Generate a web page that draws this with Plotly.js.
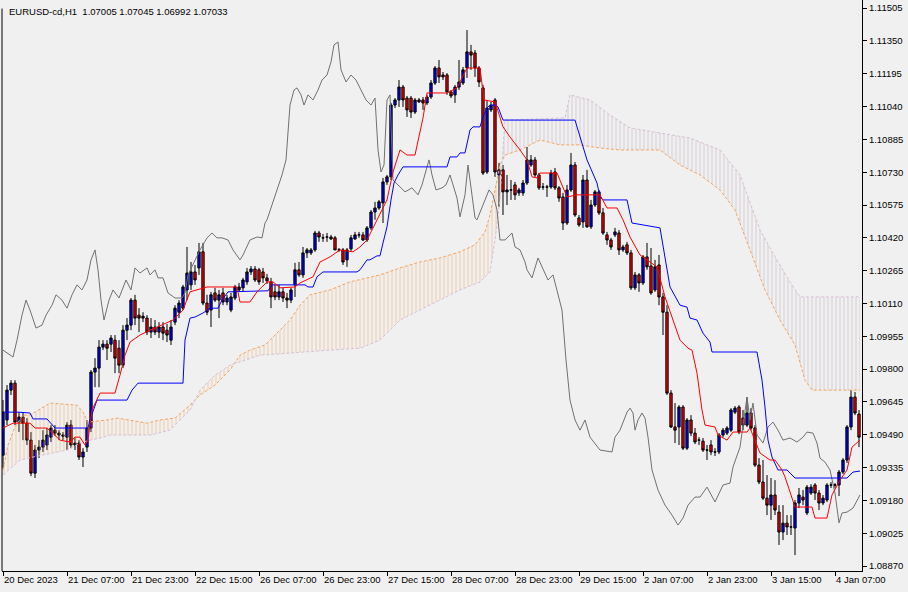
<!DOCTYPE html>
<html><head><meta charset="utf-8">
<script src="https://cdn.plot.ly/plotly-3.0.1.min.js"></script>
<style>html,body{margin:0;padding:0;background:#F0F0F0;}#chart{width:908px;height:592px;}</style>
</head><body><div id="chart"></div>
<script>
const headerText = 'EURUSD-cd,H1  1.07005 1.07045 1.06992 1.07033';
const tickBars = [0,16,32,48,64,80,96,112,128,144,160,176,192,208];
const tickLabels = ['20 Dec 2023','21 Dec 07:00','21 Dec 23:00','22 Dec 15:00','26 Dec 07:00','26 Dec 23:00','27 Dec 15:00','28 Dec 07:00','28 Dec 23:00','29 Dec 15:00','2 Jan 07:00','2 Jan 23:00','3 Jan 15:00','4 Jan 07:00'];
const priceTicks = [1.08870,1.09025,1.09180,1.09335,1.09490,1.09645,1.09800,1.09955,1.10110,1.10265,1.10420,1.10575,1.10730,1.10885,1.11040,1.11195,1.11350,1.11505];

const open = [1.09394,1.09560,1.09701,1.09734,1.09550,1.09574,1.09545,1.09465,1.09309,1.09418,
1.09432,1.09442,1.09479,1.09512,1.09498,1.09489,1.09479,1.09536,1.09442,1.09451,
1.09385,1.09432,1.09522,1.09786,1.09805,1.09904,1.09918,1.09918,1.09937,1.09899,
1.09819,1.09984,1.10008,1.10126,1.10055,1.10041,1.10041,1.09975,1.09999,1.09975,
1.09999,1.09984,1.09937,1.10022,1.10069,1.10088,1.10174,1.10198,1.10259,1.10278,
1.10354,1.10112,1.10079,1.10160,1.10126,1.10160,1.10117,1.10079,1.10136,1.10174,
1.10184,1.10212,1.10259,1.10273,1.10269,1.10259,1.10231,1.10212,1.10165,1.10141,
1.10165,1.10136,1.10126,1.10198,1.10269,1.10245,1.10349,1.10349,1.10363,1.10443,
1.10420,1.10424,1.10424,1.10420,1.10363,1.10363,1.10316,1.10368,1.10415,1.10434,
1.10434,1.10410,1.10467,1.10542,1.10561,1.10585,1.10684,1.10708,1.11047,1.11071,
1.11132,1.11080,1.11080,1.11014,1.11071,1.11071,1.11057,1.11085,1.11151,1.11222,
1.11189,1.11189,1.11109,1.11095,1.11132,1.11151,1.11222,1.11298,1.11293,1.11222,
1.11128,1.10731,1.11024,1.11071,1.10717,1.10741,1.10637,1.10646,1.10670,1.10632,
1.10632,1.10679,1.10764,1.10788,1.10717,1.10660,1.10660,1.10660,1.10731,1.10656,
1.10613,1.10490,1.10646,1.10764,1.10514,1.10495,1.10693,1.10472,1.10575,1.10637,
1.10538,1.10434,1.10410,1.10434,1.10443,1.10363,1.10387,1.10349,1.10184,1.10245,
1.10207,1.10330,1.10287,1.10174,1.10292,1.10141,1.10069,1.09687,1.09527,1.09527,
1.09621,1.09427,1.09560,1.09498,1.09465,1.09460,1.09418,1.09442,1.09409,1.09409,
1.09489,1.09498,1.09512,1.09597,1.09621,1.09569,1.09536,1.09593,1.09522,1.09347,
1.09267,1.09191,1.09158,1.09206,1.09125,1.09031,1.09073,1.09055,1.09050,1.09168,
1.09196,1.09121,1.09215,1.09253,1.09215,1.09168,1.09182,1.09253,1.09253,1.09253,
1.09314,1.09371,1.09527,1.09668,1.09588];
const high = [1.09654,1.09725,1.09748,1.09748,1.09597,1.09597,1.09569,1.09503,1.09442,1.09465,
1.09512,1.09522,1.09536,1.09536,1.09512,1.09503,1.09550,1.09560,1.09475,1.09465,
1.09427,1.09560,1.09796,1.09852,1.09937,1.09937,1.09937,1.09961,1.09961,1.09937,
1.10008,1.10041,1.10136,1.10151,1.10088,1.10069,1.10055,1.10041,1.10032,1.10022,
1.10022,1.10013,1.10032,1.10102,1.10126,1.10198,1.10377,1.10306,1.10292,1.10396,
1.10396,1.10151,1.10165,1.10184,1.10174,1.10184,1.10151,1.10160,1.10198,1.10207,
1.10231,1.10278,1.10287,1.10287,1.10278,1.10278,1.10250,1.10231,1.10198,1.10198,
1.10184,1.10160,1.10184,1.10302,1.10306,1.10377,1.10372,1.10372,1.10453,1.10453,
1.10438,1.10443,1.10434,1.10429,1.10372,1.10372,1.10372,1.10434,1.10448,1.10448,
1.10448,1.10476,1.10552,1.10590,1.10599,1.10703,1.10717,1.11057,1.11080,1.11165,
1.11142,1.11090,1.11090,1.11080,1.11080,1.11085,1.11095,1.11165,1.11231,1.11260,
1.11203,1.11198,1.11118,1.11142,1.11260,1.11227,1.11401,1.11331,1.11307,1.11231,
1.11142,1.11071,1.11062,1.11080,1.10774,1.10764,1.10717,1.10693,1.10684,1.10656,
1.10693,1.10849,1.10811,1.10802,1.10726,1.10679,1.10670,1.10741,1.10750,1.10665,
1.10632,1.10670,1.10821,1.10778,1.10528,1.10717,1.10741,1.10599,1.10646,1.10646,
1.10561,1.10448,1.10420,1.10467,1.10457,1.10387,1.10401,1.10363,1.10259,1.10254,
1.10339,1.10396,1.10372,1.10316,1.10339,1.10160,1.10102,1.09701,1.09640,1.09630,
1.09630,1.09569,1.09583,1.09522,1.09479,1.09475,1.09442,1.09465,1.09427,1.09498,
1.09522,1.09531,1.09616,1.09626,1.09630,1.09607,1.09668,1.09616,1.09536,1.09380,
1.09371,1.09300,1.09286,1.09276,1.09158,1.09158,1.09111,1.09111,1.09182,1.09239,
1.09229,1.09253,1.09257,1.09262,1.09229,1.09206,1.09262,1.09267,1.09262,1.09324,
1.09380,1.09536,1.09701,1.09692,1.09607];
const low = [1.09333,1.09536,1.09678,1.09536,1.09503,1.09465,1.09442,1.09295,1.09286,1.09380,
1.09409,1.09418,1.09456,1.09484,1.09465,1.09465,1.09418,1.09427,1.09418,1.09371,
1.09338,1.09409,1.09503,1.09715,1.09715,1.09890,1.09843,1.09881,1.09781,1.09781,
1.09805,1.09937,1.09984,1.10008,1.09975,1.10022,1.09961,1.09947,1.09961,1.09947,
1.09937,1.09928,1.09914,1.10008,1.10041,1.10079,1.10126,1.10174,1.10198,1.10245,
1.10102,1.10055,1.09999,1.10117,1.10041,1.10102,1.10102,1.10069,1.10126,1.10165,
1.10165,1.10198,1.10245,1.10212,1.10198,1.10207,1.10202,1.10088,1.10126,1.10126,
1.10117,1.10088,1.10112,1.10141,1.10236,1.10231,1.10325,1.10339,1.10354,1.10401,
1.10401,1.10401,1.10410,1.10363,1.10354,1.10292,1.10283,1.10354,1.10410,1.10420,
1.10405,1.10401,1.10457,1.10505,1.10552,1.10490,1.10670,1.10693,1.11033,1.11038,
1.11038,1.10991,1.10986,1.11005,1.11057,1.11024,1.11047,1.11076,1.11142,1.11151,
1.11165,1.11095,1.11080,1.11057,1.11118,1.11142,1.11175,1.11213,1.11180,1.11132,
1.10717,1.10722,1.11014,1.10708,1.10566,1.10528,1.10575,1.10599,1.10599,1.10618,
1.10618,1.10670,1.10755,1.10708,1.10646,1.10646,1.10613,1.10651,1.10646,1.10590,
1.10457,1.10481,1.10637,1.10519,1.10472,1.10467,1.10467,1.10462,1.10566,1.10528,
1.10434,1.10387,1.10363,1.10424,1.10339,1.10354,1.10339,1.10174,1.10174,1.10165,
1.10198,1.10269,1.10151,1.10165,1.10102,1.09961,1.09678,1.09522,1.09451,1.09442,
1.09418,1.09418,1.09484,1.09446,1.09442,1.09409,1.09371,1.09394,1.09390,1.09399,
1.09479,1.09489,1.09503,1.09588,1.09493,1.09512,1.09527,1.09512,1.09338,1.09257,
1.09182,1.09111,1.09088,1.09111,1.08970,1.08993,1.09017,1.09017,1.08922,1.09144,
1.09158,1.09111,1.09206,1.09182,1.09135,1.09158,1.09173,1.09239,1.09239,1.09201,
1.09305,1.09357,1.09512,1.09583,1.09432];
const close = [1.09597,1.09701,1.09734,1.09550,1.09574,1.09545,1.09465,1.09309,1.09418,1.09432,
1.09465,1.09489,1.09522,1.09498,1.09489,1.09484,1.09536,1.09442,1.09451,1.09385,
1.09409,1.09522,1.09786,1.09805,1.09904,1.09918,1.09899,1.09947,1.09852,1.09819,
1.09984,1.10008,1.10126,1.10041,1.10041,1.10050,1.09975,1.09999,1.09975,1.09999,
1.09970,1.09961,1.09999,1.10088,1.10112,1.10188,1.10254,1.10259,1.10221,1.10354,
1.10112,1.10069,1.10151,1.10126,1.10151,1.10117,1.10136,1.10141,1.10188,1.10188,
1.10221,1.10259,1.10273,1.10221,1.10212,1.10231,1.10217,1.10141,1.10141,1.10165,
1.10136,1.10126,1.10174,1.10269,1.10245,1.10349,1.10363,1.10363,1.10443,1.10424,
1.10420,1.10424,1.10415,1.10363,1.10363,1.10306,1.10363,1.10420,1.10434,1.10434,
1.10410,1.10467,1.10542,1.10561,1.10590,1.10684,1.10708,1.11047,1.11071,1.11132,
1.11071,1.11024,1.11014,1.11071,1.11062,1.11057,1.11085,1.11151,1.11222,1.11180,
1.11180,1.11109,1.11090,1.11132,1.11156,1.11213,1.11298,1.11283,1.11222,1.11156,
1.10726,1.11033,1.11047,1.10731,1.10741,1.10637,1.10646,1.10646,1.10623,1.10646,
1.10679,1.10788,1.10788,1.10717,1.10656,1.10660,1.10660,1.10726,1.10656,1.10608,
1.10490,1.10646,1.10764,1.10528,1.10481,1.10693,1.10472,1.10575,1.10637,1.10538,
1.10443,1.10410,1.10377,1.10448,1.10363,1.10377,1.10349,1.10184,1.10245,1.10207,
1.10330,1.10283,1.10160,1.10283,1.10141,1.10069,1.09687,1.09527,1.09512,1.09621,
1.09427,1.09560,1.09498,1.09456,1.09465,1.09418,1.09418,1.09409,1.09409,1.09489,
1.09512,1.09522,1.09607,1.09616,1.09503,1.09536,1.09593,1.09522,1.09347,1.09267,
1.09191,1.09158,1.09206,1.09135,1.09031,1.09073,1.09055,1.09055,1.09168,1.09206,
1.09182,1.09243,1.09243,1.09215,1.09168,1.09191,1.09253,1.09253,1.09253,1.09314,
1.09371,1.09527,1.09668,1.09593,1.09479];

// Tenkan-sen (red) vertices: bar position, price
const tenkanBar = [0,2.5,6.75,8,11,14.25,16.75,18,19.25,20.5,21.25,22.25,24.25,28,29.25,30.5,31.75,34.25,36.75,42.5,45,46.75,51,58.5,59.25,61.75,63.5,66,67.5,69.25,73,74.25,77.5,79.25,81.75,84.25,87.5,89.25,91,94.25,96,97.5,99.25,101,103,105,106,111,113.5,116,119.25,120.25,123,125,126.75,129.25,131,132.25,133.5,134.25,138.5,141,143.5,149.25,151,153.5,155,156.75,159.25,163.5,165.5,169.25,171.25,172.25,173.5,174.75,175.5,178,178.75,181,182.5,186,186.75,189.25,191.75,193,194.75,195.5,198,202.25,203,206,207.25,209.25,211,212.25,214.25];
const tenkanPrice = [1.09522,1.09545,1.09545,1.09522,1.09522,1.09465,1.09456,1.09479,1.09479,1.09442,1.09465,1.09607,1.09687,1.09687,1.09772,1.09866,1.09928,1.09961,1.09984,1.10032,1.10079,1.10165,1.10188,1.10188,1.10117,1.10117,1.10165,1.10212,1.10212,1.10184,1.10188,1.10207,1.10236,1.10306,1.10330,1.10363,1.10354,1.10377,1.10410,1.10528,1.10599,1.10731,1.10835,1.10811,1.10811,1.10986,1.11104,1.11104,1.11128,1.11222,1.11222,1.11071,1.11062,1.10944,1.10896,1.10835,1.10788,1.10708,1.10703,1.10726,1.10726,1.10613,1.10623,1.10623,1.10561,1.10561,1.10505,1.10424,1.10339,1.10283,1.10141,1.09937,1.09899,1.09890,1.09781,1.09607,1.09536,1.09527,1.09489,1.09465,1.09503,1.09503,1.09522,1.09404,1.09371,1.09371,1.09324,1.09291,1.09149,1.09149,1.09097,1.09097,1.09206,1.09276,1.09324,1.09432,1.09465];
// Kijun-sen (blue)
const kijunBar = [0,3.75,6.75,7.5,11,13,21.25,21.75,23.5,31,32.25,33.75,45,45.5,46.75,48,50,51.75,53.75,54.75,56.25,66.25,67.25,75.5,76.25,77.5,78.5,80,88.5,89.25,91,91.75,93.5,94.25,95,96,97,97.75,98.75,100,111,111.75,113.5,114.25,115.5,116.75,117.5,119.25,120,121,121.75,123,123.75,125,143,146,148.5,149.25,150,156,157.25,164.25,166.75,169.25,171,171.75,173.5,175,176.75,177.25,188.5,189.75,190.5,191.25,192.25,193.75,196,198,211,212.5,214.25];
const kijunPrice = [1.09597,1.09597,1.09593,1.09565,1.09565,1.09522,1.09522,1.09560,1.09654,1.09654,1.09701,1.09734,1.09734,1.09937,1.10041,1.10046,1.10065,1.10088,1.10088,1.10126,1.10165,1.10170,1.10198,1.10198,1.10188,1.10188,1.10236,1.10259,1.10259,1.10269,1.10316,1.10316,1.10335,1.10335,1.10396,1.10472,1.10599,1.10679,1.10717,1.10755,1.10755,1.10802,1.10802,1.10821,1.10821,1.10929,1.10944,1.10944,1.10991,1.11033,1.11047,1.11047,1.11038,1.10976,1.10976,1.10788,1.10679,1.10613,1.10599,1.10599,1.10490,1.10467,1.10188,1.10102,1.10093,1.10041,1.10032,1.09970,1.09928,1.09881,1.09881,1.09748,1.09621,1.09465,1.09385,1.09324,1.09324,1.09286,1.09286,1.09314,1.09319];
// Chikou span (gray)
const chikouBar = [0,1.75,2.5,3.5,4.75,5.75,6.75,8.25,9.75,10.75,12.25,13.25,14.75,16,17.25,18.5,19.75,21,22,23,23.75,24.5,25.25,26.5,27.5,29,30.75,32,33,34.25,36,36.75,38,38.75,40,41.25,43,44.75,45.5,46.25,49.25,51,52.25,53.5,54.75,56.25,57.5,59.25,60,61.75,63.5,64.75,65.5,66,67.25,68.5,69.75,70.75,71.75,72.75,73.5,74.5,75.25,76.25,77.5,78.75,79.75,81,82,82.75,83.75,84.5,85.75,87,88.25,89.5,90.75,92,93,93.75,94.5,95.25,96,96.75,97.5,98.75,100.5,102.25,103.75,104.75,106,106.5,107.25,108.25,109.75,110.75,111.75,112.75,113.5,114.25,115.5,116.25,117,118,118.5,119.5,120.5,121.5,122.5,123.5,124.25,125.5,127.25,128,129.25,130.5,131,132.25,133.75,135,136.25,137.5,138.5,139.75,140.75,141.75,143,144.25,145.5,146.75,149.25,152.25,153,154.25,156,156.75,157.5,158,158.75,159.75,160.5,161.25,162.25,163.75,165.5,167.25,168.75,170,171.25,173,174.25,176,178,180,181.75,182.5,184.25,186,186.75,187.5,188.5,190,191.25,192.5,193.75,195,196.75,198.5,200,201,202.5,203.5,204.25,205.5,206.75,208,209,209.75,211,212.5,214.25];
const chikouPrice = [1.09890,1.09866,1.09857,1.09937,1.10055,1.10126,1.10079,1.09994,1.10008,1.10055,1.10102,1.10151,1.10126,1.10088,1.10151,1.10198,1.10174,1.10221,1.10316,1.10363,1.10269,1.10126,1.10032,1.10126,1.10174,1.10136,1.10221,1.10174,1.10278,1.10254,1.10278,1.10245,1.10269,1.10231,1.10231,1.10160,1.10136,1.10136,1.10160,1.10245,1.10363,1.10420,1.10443,1.10420,1.10420,1.10410,1.10363,1.10316,1.10339,1.10410,1.10424,1.10420,1.10490,1.10505,1.10575,1.10646,1.10717,1.10788,1.11047,1.11118,1.11128,1.11095,1.11047,1.11095,1.11071,1.11118,1.11165,1.11189,1.11250,1.11331,1.11345,1.11213,1.11156,1.11189,1.11165,1.11118,1.11071,1.11047,1.11080,1.10835,1.10731,1.10764,1.11071,1.11095,1.10693,1.10670,1.10637,1.10656,1.10623,1.10670,1.10764,1.10788,1.10717,1.10646,1.10656,1.10670,1.10717,1.10656,1.10608,1.10519,1.10623,1.10764,1.10646,1.10514,1.10505,1.10552,1.10599,1.10646,1.10623,1.10552,1.10410,1.10410,1.10443,1.10377,1.10363,1.10306,1.10269,1.10231,1.10325,1.10269,1.10221,1.10245,1.10174,1.10079,1.09843,1.09654,1.09560,1.09512,1.09560,1.09479,1.09418,1.09409,1.09479,1.09512,1.09597,1.09616,1.09593,1.09512,1.09560,1.09593,1.09569,1.09479,1.09324,1.09229,1.09158,1.09111,1.09064,1.09097,1.09158,1.09196,1.09196,1.09243,1.09173,1.09253,1.09262,1.09338,1.09432,1.09668,1.09560,1.09640,1.09489,1.09451,1.09527,1.09550,1.09512,1.09465,1.09475,1.09456,1.09479,1.09503,1.09498,1.09451,1.09380,1.09361,1.09324,1.09215,1.09074,1.09121,1.09125,1.09144,1.09206];
// Senkou span A (sandy brown) and B (thistle)
const spanABar = [0,1.25,3,5,6.75,10,11.75,18.5,20,21.25,26,28.5,36,39.25,43,46.75,49.25,53,56.75,59.25,61.75,65.5,69.25,71.75,74.25,76.75,81.75,86.75,94.25,99.25,104.25,109.25,114.25,118,120.5,121.75,123,124.25,124.8,125.5,129.25,134.25,139.25,144.25,149.25,154.25,159.25,164.25,169.25,174.25,179.25,183,186.75,190.5,194.25,198,200.5,202.25,214.25];
const spanAPrice = [1.09324,1.09442,1.09527,1.09583,1.09583,1.09621,1.09640,1.09630,1.09597,1.09550,1.09560,1.09569,1.09545,1.09560,1.09569,1.09630,1.09678,1.09725,1.09796,1.09866,1.09890,1.09914,1.09984,1.10032,1.10102,1.10151,1.10174,1.10212,1.10245,1.10278,1.10306,1.10325,1.10354,1.10387,1.10448,1.10528,1.10646,1.10764,1.10785,1.10811,1.10835,1.10882,1.10859,1.10859,1.10844,1.10835,1.10835,1.10835,1.10764,1.10717,1.10646,1.10552,1.10363,1.10174,1.10032,1.09914,1.09748,1.09701,1.09701];
const spanBBar = [0,4.25,7.5,16,19.25,21.75,24.25,26.75,36.75,41.75,46.75,49.25,53,56.75,64.25,74.25,81.75,89.25,94.25,99.25,104.25,109.25,114.25,119.25,121.75,123,124.25,124.8,125.5,140.5,141.75,146.75,151.75,156.75,164.25,171.75,179.25,184.25,189.25,193,196.75,199.25,214.25];
const spanBPrice = [1.09300,1.09371,1.09385,1.09418,1.09451,1.09465,1.09475,1.09489,1.09489,1.09512,1.09607,1.09701,1.09772,1.09819,1.09866,1.09881,1.09890,1.09899,1.09937,1.10032,1.10079,1.10126,1.10174,1.10212,1.10259,1.10410,1.10599,1.10785,1.10976,1.10986,1.11095,1.11071,1.11000,1.10939,1.10915,1.10891,1.10835,1.10717,1.10457,1.10330,1.10212,1.10141,1.10141];
const cloudCross = 124.8;

const bars = open.map((_, i) => i);
function pick(xs, ys, keep) {
  const px = [], py = [];
  xs.forEach((x, i) => { if (keep(x)) { px.push(x); py.push(ys[i]); } });
  return [px, py];
}
function cloud(keep, color, opacity) {
  const [ax, ay] = pick(spanABar, spanAPrice, keep);
  const [bx, by] = pick(spanBBar, spanBPrice, keep);
  return {
    type: 'scatter', mode: 'lines', x: ax.concat(bx.slice().reverse()), y: ay.concat(by.slice().reverse()),
    fill: 'toself', fillcolor: 'rgba(0,0,0,0)', line: {width: 0, color: 'rgba(0,0,0,0)'},
    fillpattern: {shape: '|', fgcolor: color, fgopacity: opacity, bgcolor: 'rgba(0,0,0,0)', size: 4, solidity: 0.25},
    hoverinfo: 'skip'
  };
}
const font = {family: 'Liberation Sans, Arial, sans-serif', size: 9.5, color: '#000000'};
const traces = [
  cloud(x => x <= cloudCross, '#F4A460', 0.5),
  cloud(x => x >= cloudCross, '#B8A8B8', 0.5),
  {type: 'scatter', mode: 'lines', x: spanABar, y: spanAPrice, line: {color: '#F4A460', width: 1, dash: '3px,2px'}, hoverinfo: 'skip'},
  {type: 'scatter', mode: 'lines', x: spanBBar, y: spanBPrice, line: {color: '#D8BFD8', width: 1, dash: '3px,2px'}, hoverinfo: 'skip'},
  {type: 'candlestick', x: bars, open: open, high: high, low: low, close: close,
   increasing: {line: {color: '#000000', width: 1}, fillcolor: '#0000FF'},
   decreasing: {line: {color: '#000000', width: 1}, fillcolor: '#FF0000'},
   whiskerwidth: 0, hoverinfo: 'skip'},
  {type: 'scatter', mode: 'lines', x: chikouBar, y: chikouPrice, line: {color: '#707070', width: 1}, hoverinfo: 'skip'},
  {type: 'scatter', mode: 'lines', x: kijunBar, y: kijunPrice, line: {color: '#0000FF', width: 1}, hoverinfo: 'skip'},
  {type: 'scatter', mode: 'lines', x: tenkanBar, y: tenkanPrice, line: {color: '#FF0000', width: 1}, hoverinfo: 'skip'}
];
const layout = {
  width: 908, height: 592,
  paper_bgcolor: '#F0F0F0', plot_bgcolor: '#F0F0F0',
  margin: {l: 2, r: 46, t: 0, b: 21, pad: 0},
  showlegend: false, boxgap: 0.18, dragmode: false,
  xaxis: {range: [-0.25, 214.75], tickmode: 'array', tickvals: tickBars, ticktext: tickLabels, tickangle: 0,
    ticks: 'outside', ticklen: 4, tickcolor: '#000000', tickwidth: 1,
    showline: true, linecolor: '#000000', linewidth: 1, showgrid: false, zeroline: false,
    rangeslider: {visible: false}, ticklabelposition: 'outside right', tickfont: font, fixedrange: true},
  yaxis: {side: 'right', range: [1.08847, 1.11543], tickmode: 'array', tickvals: priceTicks,
    ticktext: priceTicks.map(v => v.toFixed(5)), ticks: 'outside', ticklen: 4, tickcolor: '#000000',
    showline: true, linecolor: '#000000', linewidth: 1, showgrid: false, zeroline: false,
    tickfont: font, fixedrange: true},
  shapes: [{type: 'line', xref: 'paper', yref: 'paper', x0: 0, x1: 0, y0: 0, y1: 0.985, line: {color: '#000000', width: 1}}],
  annotations: [{text: headerText, xref: 'paper', yref: 'paper', x: 0.006, y: 0.979, xanchor: 'left', yanchor: 'middle',
    showarrow: false, font: font}]
};
Plotly.newPlot('chart', traces, layout, {staticPlot: true, displayModeBar: false});
</script></body></html>
